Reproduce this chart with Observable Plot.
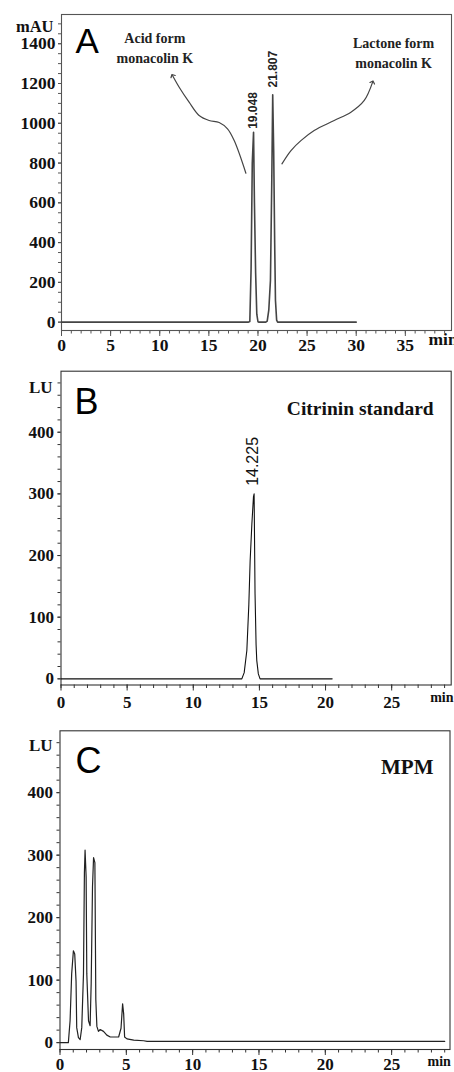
<!DOCTYPE html>
<html>
<head>
<meta charset="utf-8">
<script src="https://cdn.jsdelivr.net/npm/d3@7"></script>
<script src="https://cdn.jsdelivr.net/npm/@observablehq/plot@0.6"></script>
<style>
  html, body { margin: 0; padding: 0; background: #fff; }
  #chart svg { display: block; overflow: visible; }
</style>
</head>
<body>
<div id="chart"></div>
<script>
// ---------- Panel A: monacolin K (mAU vs min) ----------
const timeA = [0, 19.0, 19.17, 19.3, 19.42, 19.55, 19.64, 19.76, 19.88, 20.0, 20.1, 20.8, 20.94, 21.1, 21.27, 21.4, 21.5, 21.6, 21.7, 21.78, 21.9, 22.0, 30];
const mAU_A  = [0, 0, 3, 270, 800, 955, 600, 250, 40, 2, 0, 0, 5, 60, 210, 690, 1143, 860, 400, 110, 10, 0, 0];
const peakTimeA  = [19.55, 21.5];
const peakLabelYA = [972, 1180];
const peakLabelA = ["19.048", "21.807"];
const noteTimeA = [9.5, 9.5, 33.8, 33.8];
const noteYA    = [1426, 1325, 1400, 1300];
const noteTextA = ["Acid form", "monacolin K", "Lactone form", "monacolin K"];
const arrowAcidT = [18.77, 17.58, 16.9, 16.05, 15.03, 14.01, 12.99, 11.98, 11.3];
const arrowAcidV = [749, 913, 972, 1004, 1014, 1039, 1106, 1181, 1240];
const arrowLactT = [22.44, 23.36, 24.37, 25.72, 27.76, 29.46, 30.82, 31.67];
const arrowLactV = [796, 863, 913, 964, 1014, 1056, 1115, 1207];
const yTicksA = [0, 200, 400, 600, 800, 1000, 1200, 1400];
const xTicksA = [0, 5, 10, 15, 20, 25, 30, 35];

// ---------- Panel B: citrinin standard (LU vs min) ----------
const timeB = [0, 13.67, 13.85, 14.05, 14.2, 14.3, 14.43, 14.55, 14.6, 14.67, 14.75, 14.8, 14.92, 15.05, 20.5];
const LU_B  = [0, 0, 10, 46, 120, 192, 251, 295, 300, 138, 55, 30, 8, 0, 0];
const peakTimeB = [14.5];
const peakLabelYB = [313];
const peakLabelB = ["14.225"];

// ---------- Panel C: MPM (LU vs min) ----------
const timeC = [0, 0.63, 0.76, 0.88, 1.01, 1.11, 1.21, 1.26, 1.39, 1.52, 1.64, 1.77, 1.84, 1.89, 1.97, 2.02, 2.15, 2.27, 2.35, 2.45, 2.53, 2.63, 2.70, 2.78, 2.9, 3.03, 3.28, 3.53, 3.79, 4.04, 4.42, 4.6, 4.72, 4.8, 4.87, 5.05, 5.56, 6.31, 6.57, 29];
const LU_C  = [0, 0, 35, 110, 147, 142, 98, 24, 8, 5, 24, 110, 272, 308, 265, 110, 35, 27, 94, 250, 296, 288, 69, 26, 18, 21, 18, 12, 9, 9, 9, 23, 62, 46, 9, 6, 4, 3, 2, 2];

const yTicksLU = [0, 100, 200, 300, 400];
const xTicksBC = [0, 5, 10, 15, 20, 25];

// ---------- helpers ----------
const rows = (xs, ys) => xs.map((x, i) => ({x, y: ys[i]}));
const serif = "'Liberation Serif', 'Times New Roman', serif";
const sans = "'Liberation Sans', Arial, sans-serif";
const plain = d => String(d);

const baseStyle = {
  fontFamily: serif, fontSize: "17px", fontWeight: "bold",
  color: "#111", background: "white", overflow: "visible"
};

function axes(cfg) {
  return [
    Plot.frame({stroke: cfg.frame, strokeWidth: 1.1}),
    Plot.axisY(cfg.yTicks, {tickSize: 3, tickPadding: cfg.yPad, label: null, tickFormat: plain,
      fontSize: cfg.fs, fontWeight: "bold", fontFamily: serif, fill: "#111", stroke: cfg.frame}),
    Plot.axisY(cfg.yMinor, {tickSize: 3, text: null, label: null, stroke: cfg.frame}),
    Plot.axisX(cfg.xTicks, {tickSize: 6, tickPadding: cfg.xPad, label: null, tickFormat: plain,
      fontSize: cfg.fs, fontWeight: "bold", fontFamily: serif, fill: "#111", stroke: cfg.frame}),
    Plot.axisX(cfg.xMinor, {tickSize: 3.5, text: null, label: null, stroke: cfg.frame}),
  ];
}

// ---------- Panel A ----------
const plotA = Plot.plot({
  width: 454, height: 356,
  marginTop: 14, marginBottom: 26, marginLeft: 61, marginRight: 3,
  style: baseStyle,
  x: {domain: [0, 39.7]},
  y: {domain: [-42, 1547]},
  marks: [
    ...axes({frame: "#555", yTicks: yTicksA, yMinor: d3.range(0, 1501, 50), xTicks: xTicksA,
             xMinor: d3.range(0, 40, 1), fs: 17.5, yPad: 3, xPad: 2}),
    Plot.line(rows(timeA, mAU_A), {x: "x", y: "y", stroke: "#444", strokeWidth: 1.6}),
    Plot.text(peakLabelA, {x: (d, i) => peakTimeA[i], y: (d, i) => peakLabelYA[i], text: d => d,
      rotate: -90, textAnchor: "start", fontFamily: sans, fontSize: 12, fontWeight: "bold", fill: "#222"}),
    Plot.text(noteTextA, {x: (d, i) => noteTimeA[i], y: (d, i) => noteYA[i], text: d => d,
      fontSize: 14, fontWeight: "bold", fill: "#222"}),
    Plot.line(rows(arrowAcidT, arrowAcidV), {x: "x", y: "y", curve: "catmull-rom", stroke: "#444", strokeWidth: 1.2, markerEnd: "arrow"}),
    Plot.line(rows(arrowLactT, arrowLactV), {x: "x", y: "y", curve: "catmull-rom", stroke: "#444", strokeWidth: 1.2, markerEnd: "arrow"}),
    Plot.text(["mAU"], {frameAnchor: "top-left", text: d => d, textAnchor: "end", dx: -8, dy: 6, fontSize: 16.5}),
    Plot.text(["min"], {frameAnchor: "bottom-right", text: d => d, textAnchor: "start", dx: -23, dy: 14, fontSize: 17.5}),
    Plot.text(["A"], {frameAnchor: "top-left", text: d => d, textAnchor: "start", lineAnchor: "top", dx: 14, dy: 14,
      fontFamily: sans, fontWeight: "normal", fontSize: 35, fill: "#000"})
  ]
});

// ---------- Panel B ----------
const plotB = Plot.plot({
  width: 454, height: 356,
  marginTop: 14.7, marginBottom: 27.5, marginLeft: 60.5, marginRight: 3.3,
  style: baseStyle,
  x: {domain: [0, 29.5]},
  y: {domain: [-10, 499]},
  marks: [
    ...axes({frame: "#333", yTicks: yTicksLU, yMinor: d3.range(0, 499, 20), xTicks: xTicksBC,
             xMinor: d3.range(0, 30, 1), fs: 17, yPad: 4, xPad: 4.5}),
    Plot.line(rows(timeB, LU_B), {x: "x", y: "y", stroke: "#111", strokeWidth: 1.1}),
    Plot.text(peakLabelB, {x: (d, i) => peakTimeB[i], y: (d, i) => peakLabelYB[i], text: d => d,
      rotate: -90, textAnchor: "start", fontFamily: sans, fontSize: 16, fontWeight: "normal", fill: "#111"}),
    Plot.text(["LU"], {frameAnchor: "top-left", text: d => d, textAnchor: "end", dx: -8.5, dy: 9.5, fontSize: 17}),
    Plot.text(["min"], {frameAnchor: "bottom-right", text: d => d, textAnchor: "start", dx: -21, dy: 17, fontSize: 14}),
    Plot.text(["Citrinin standard"], {frameAnchor: "top-right", text: d => d, textAnchor: "end", dx: -17.5, dy: 30, fontSize: 19.5}),
    Plot.text(["B"], {frameAnchor: "top-left", text: d => d, textAnchor: "start", lineAnchor: "top", dx: 13.5, dy: 17,
      fontFamily: sans, fontWeight: "normal", fontSize: 36, fill: "#000"})
  ]
});

// ---------- Panel C ----------
const plotC = Plot.plot({
  width: 454, height: 360,
  marginTop: 18.3, marginBottom: 23, marginLeft: 59.5, marginRight: 4.5,
  style: baseStyle,
  x: {domain: [0, 29.4]},
  y: {domain: [-11, 499]},
  marks: [
    ...axes({frame: "#333", yTicks: yTicksLU, yMinor: d3.range(0, 499, 20), xTicks: xTicksBC,
             xMinor: d3.range(0, 30, 1), fs: 17, yPad: 4, xPad: 2.5}),
    Plot.line(rows(timeC, LU_C), {x: "x", y: "y", stroke: "#222", strokeWidth: 1.2}),
    Plot.text(["LU"], {frameAnchor: "top-left", text: d => d, textAnchor: "end", dx: -7.5, dy: 8.5, fontSize: 17}),
    Plot.text(["min"], {frameAnchor: "bottom-right", text: d => d, textAnchor: "start", dx: -22.5, dy: 16, fontSize: 14}),
    Plot.text(["MPM"], {frameAnchor: "top-right", text: d => d, textAnchor: "end", dx: -16.5, dy: 28.5, fontSize: 21}),
    Plot.text(["C"], {frameAnchor: "top-left", text: d => d, textAnchor: "start", lineAnchor: "top", dx: 15.5, dy: 16.5,
      fontFamily: sans, fontWeight: "normal", fontSize: 36, fill: "#000"})
  ]
});

const root = document.getElementById("chart");
root.append(plotA, plotB, plotC);
</script>
</body>
</html>
